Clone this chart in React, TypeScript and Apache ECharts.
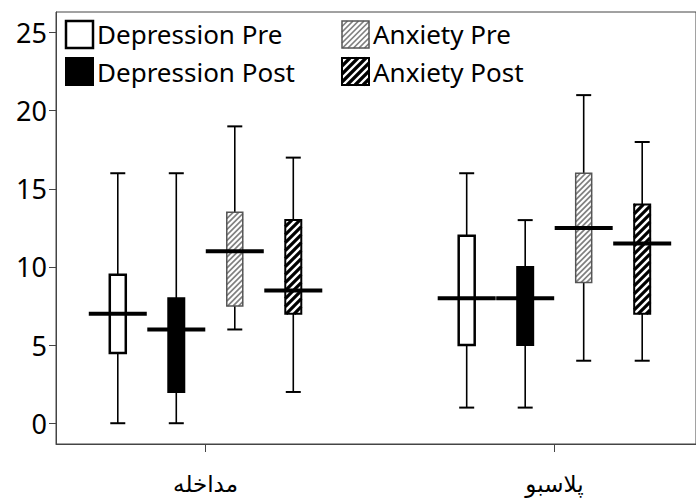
import React, { useEffect, useRef } from "react";
import * as echarts from "echarts";

// ---------- data ----------
const categories = ["مداخله", "پلاسبو"];
const categoryPositions = [0, 1];
const seriesNames = ["Depression Pre", "Depression Post", "Anxiety Pre", "Anxiety Post"];
// each row: [min, Q1, median, Q3, max] for categories[0], categories[1]
const depressionPre = [
  [0, 4.5, 7, 9.5, 16],
  [1, 5, 8, 12, 16],
];
const depressionPost = [
  [0, 2, 6, 8, 16],
  [1, 5, 8, 10, 13],
];
const anxietyPre = [
  [6, 7.5, 11, 13.5, 19],
  [4, 9, 12.5, 16, 21],
];
const anxietyPost = [
  [2, 7, 8.5, 13, 17],
  [4, 7, 11.5, 14, 18],
];
const yTicks = [0, 5, 10, 15, 20, 25];

// ---------- styles ----------
type Look = {
  fill: string;
  stroke: string;
  lineWidth: number;
  stripe?: { color: string; width: number; period: number };
};
const looks: Look[] = [
  { fill: "#ffffff", stroke: "#000000", lineWidth: 2.5 },
  { fill: "#000000", stroke: "#000000", lineWidth: 2 },
  { fill: "#ffffff", stroke: "#555555", lineWidth: 1.5, stripe: { color: "#808080", width: 1.7, period: 5.5 } },
  { fill: "#ffffff", stroke: "#000000", lineWidth: 2, stripe: { color: "#000000", width: 3.2, period: 8 } },
];
const OFFSETS = [-1.5, -0.5, 0.5, 1.5];
const SPACING = 58.5;
const BOX_W = 16;
const CAP_W = 15;
const MED_W = 58;
const FONT = "'Noto Sans', 'DejaVu Sans', sans-serif";

function stripeLines(x0: number, y0: number, x1: number, y1: number, s: { color: string; width: number; period: number }) {
  const out: any[] = [];
  const start = Math.ceil((x0 + y0) / s.period) * s.period;
  for (let c = start; c <= x1 + y1; c += s.period) {
    const sx = Math.max(x0, c - y1);
    const ex = Math.min(x1, c - y0);
    if (ex - sx > 0.3) {
      out.push({
        type: "line",
        silent: true,
        shape: { x1: sx, y1: c - sx, x2: ex, y2: c - ex },
        style: { stroke: s.color, lineWidth: s.width },
      });
    }
  }
  return out;
}

function boxShapes(x: number, y: number, w: number, h: number, look: Look) {
  const arr: any[] = [
    { type: "rect", silent: true, shape: { x, y, width: w, height: h }, style: { fill: look.fill, stroke: "none" } },
  ];
  if (look.stripe) arr.push(...stripeLines(x, y, x + w, y + h, look.stripe));
  arr.push({
    type: "rect",
    silent: true,
    shape: { x, y, width: w, height: h },
    style: { fill: "none", stroke: look.stroke, lineWidth: look.lineWidth },
  });
  return arr;
}

const makeRender = (k: number) => (_params: any, api: any) => {
  const gi = api.value(0);
  const base = api.coord([gi, 0]);
  const cx = base[0] + OFFSETS[k] * SPACING;
  const ys = [1, 2, 3, 4, 5].map((d) => api.coord([gi, api.value(d)])[1]);
  const [yMin, yQ1, yMed, yQ3, yMax] = ys;
  const look = looks[k];
  const children: any[] = [
    { type: "line", shape: { x1: cx, y1: yMax, x2: cx, y2: yMin }, style: { stroke: "#000", lineWidth: 1.6 } },
    { type: "line", shape: { x1: cx - CAP_W / 2, y1: yMax, x2: cx + CAP_W / 2, y2: yMax }, style: { stroke: "#000", lineWidth: 2 } },
    { type: "line", shape: { x1: cx - CAP_W / 2, y1: yMin, x2: cx + CAP_W / 2, y2: yMin }, style: { stroke: "#000", lineWidth: 2 } },
    ...boxShapes(cx - BOX_W / 2, yQ3, BOX_W, yQ1 - yQ3, look),
    { type: "line", shape: { x1: cx - MED_W / 2, y1: yMed, x2: cx + MED_W / 2, y2: yMed }, style: { stroke: "#000", lineWidth: 4 } },
  ];
  return { type: "group", children };
};

export default function App() {
  const ref = useRef<HTMLDivElement>(null);
  useEffect(() => {
    if (!ref.current) return;
    const chart = echarts.init(ref.current, undefined, { renderer: "svg" });
    const seriesData = [depressionPre, depressionPost, anxietyPre, anxietyPost];

    const legendPos = [
      { x: 66, y: 21, tx: 97, ty: 34 },
      { x: 66, y: 58, tx: 97, ty: 72 },
      { x: 342, y: 21, tx: 373, ty: 34 },
      { x: 342, y: 58, tx: 373, ty: 72 },
    ];
    const legendEls: any[] = [];
    seriesNames.forEach((name, k) => {
      const p = legendPos[k];
      legendEls.push(...boxShapes(p.x, p.y, 27, 27, looks[k]));
      legendEls.push({
        type: "text",
        silent: true,
        x: p.tx,
        y: p.ty,
        style: { text: name, fill: "#000", font: `26px ${FONT}`, textVerticalAlign: "middle", textAlign: "left" },
      });
    });

    const gridLeft = 56;
    const gridRight = -2;
    const width = 696;
    const plotW = width - gridLeft - gridRight;
    const pxPerUnit = 350;
    const firstCenter = 206;
    const xMin = -(firstCenter - gridLeft) / pxPerUnit;
    const xMax = xMin + plotW / pxPerUnit;

    chart.setOption({
      animation: false,
      backgroundColor: "#ffffff",
      grid: {
        left: gridLeft,
        right: gridRight,
        top: 12,
        bottom: 57,
        show: true,
        borderColor: "#444",
        borderWidth: 1,
        backgroundColor: "transparent",
      },
      xAxis: {
        type: "value",
        min: xMin,
        max: xMax,
        splitLine: { show: false },
        axisLine: { show: true, onZero: false, lineStyle: { color: "#444", width: 1 } },
        axisTick: { show: true, customValues: categoryPositions, length: 8, lineStyle: { color: "#444" } },
        axisLabel: {
          customValues: categoryPositions,
          formatter: (v: number) => categories[Math.round(v)] ?? "",
          fontSize: 23,
          fontFamily: FONT,
          color: "#000",
          margin: 27,
        },
      },
      yAxis: {
        type: "value",
        min: -1.33,
        max: 26.32,
        splitLine: { show: false },
        axisLine: { show: true, onZero: false, lineStyle: { color: "#444", width: 1 } },
        axisTick: { show: true, customValues: yTicks, length: 7, lineStyle: { color: "#444" } },
        axisLabel: {
          customValues: yTicks,
          fontSize: 27,
          fontFamily: FONT,
          color: "#000",
          margin: 9,
        },
      },
      graphic: legendEls,
      series: seriesData.map((rows, k) => ({
        type: "custom",
        name: seriesNames[k],
        silent: true,
        clip: false,
        renderItem: makeRender(k),
        encode: { x: 0, y: [1, 2, 3, 4, 5] },
        data: rows.map((r, i) => [categoryPositions[i], ...r]),
      })),
    });
    return () => chart.dispose();
  }, []);
  return <div ref={ref} style={{ position: "fixed", left: 0, top: 0, width: 696, height: 501 }} />;
}
